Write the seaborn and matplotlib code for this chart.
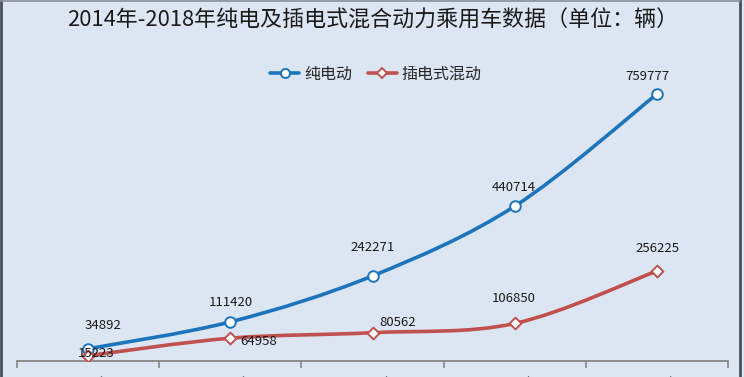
import numpy as np
import pandas as pd
import matplotlib
matplotlib.use("Agg")
import matplotlib.pyplot as plt
from matplotlib.path import Path
from matplotlib.patches import PathPatch
from matplotlib.lines import Line2D
import seaborn as sns

years = ["2014年", "2015年", "2016年", "2017年", "2018年"]
bev = [34892, 111420, 242271, 440714, 759777]
phev = [15223, 64958, 80562, 106850, 256225]
legend_names = ["纯电动", "插电式混动"]
title = "2014年-2018年纯电及插电式混合动力乘用车数据（单位：辆）"

sns.set_theme(style="white")
plt.rcParams['font.family'] = ['Noto Sans CJK SC', 'DejaVu Sans']

bg = "#dce6f2"
blue = "#1c74bc"
red = "#c0504d"

fig = plt.figure(figsize=(7.44, 3.77), dpi=100, facecolor=bg)
ax = fig.add_axes([17/744, 16/377, (728-17)/744, (361-80)/377])
ax.set_facecolor(bg)

df = pd.DataFrame({"x": np.arange(len(years)), "bev": bev, "phev": phev})


def smooth_path(xs, ys):
    pts = np.column_stack([xs, ys]).astype(float)
    n = len(pts)
    verts = [pts[0]]
    codes = [Path.MOVETO]
    for i in range(n - 1):
        p_prev = pts[i - 1] if i > 0 else pts[i]
        p_next2 = pts[i + 2] if i + 2 < n else pts[i + 1]
        c1 = pts[i] + (pts[i + 1] - p_prev) / 6.0
        c2 = pts[i + 1] - (p_next2 - pts[i]) / 6.0
        verts += [c1, c2, pts[i + 1]]
        codes += [Path.CURVE4] * 3
    return Path(verts, codes)


styles = [("bev", blue, "o", 58), ("phev", red, "D", 36)]
for col, color, marker, size in styles:
    ax.add_patch(PathPatch(smooth_path(df["x"], df[col]), facecolor="none",
                           edgecolor=color, lw=2.6, zorder=2, capstyle="round"))
    sns.scatterplot(data=df, x="x", y=col, marker=marker, s=size, color="white",
                    edgecolor=color, linewidth=1.4, zorder=3, ax=ax, legend=False)

# data labels
bev_off = [(15, 23), (1, 19), (0, 28), (-1, 19), (-10, 18)]
phev_off = [(8, 2), (28, -3), (25, 10), (-1, 25), (1, 23)]
for i in range(len(years)):
    ax.annotate(str(bev[i]), (df["x"][i], bev[i]), xytext=bev_off[i],
                textcoords="offset pixels", ha="center", va="center",
                fontsize=9.5, color="#1a1a1a", zorder=4)
    ax.annotate(str(phev[i]), (df["x"][i], phev[i]), xytext=phev_off[i],
                textcoords="offset pixels", ha="center", va="center",
                fontsize=9.5, color="#1a1a1a", zorder=4)

ax.set_xlim(-0.5, len(years) - 0.5)
ax.set_ylim(0, 800000)
ax.set_xticks(df["x"])
ax.set_xticklabels(years, fontsize=11, color="#555555")
ax.set_xticks(np.arange(-0.5, len(years)), minor=True)
ax.tick_params(axis="x", which="major", length=0, pad=11)
ax.tick_params(axis="x", which="minor", length=5, width=1.2, color="#868686", direction="out", bottom=True)
ax.set_yticks([])
ax.set_xlabel("")
ax.set_ylabel("")
for s in ["top", "left", "right"]:
    ax.spines[s].set_visible(False)
ax.spines["bottom"].set_color("#868686")
ax.spines["bottom"].set_linewidth(1.3)

handles = [
    Line2D([], [], color=blue, lw=2.6, marker="o", markersize=6.5,
           markerfacecolor="white", markeredgecolor=blue, markeredgewidth=1.4),
    Line2D([], [], color=red, lw=2.6, marker="D", markersize=5,
           markerfacecolor="white", markeredgecolor=red, markeredgewidth=1.4),
]
fig.legend(handles, legend_names, loc="center", bbox_to_anchor=(376/744, 1 - 74/377),
           ncol=2, frameon=False, fontsize=11.5, handlelength=1.8, handletextpad=0.3,
           columnspacing=1.0)

fig.text(373/744, 1 - 21/377, title, ha="center", va="center", fontsize=15.8, color="#1a1a1a")

# frame: dark left/right edges, thin gray top
fig.add_artist(Line2D([1.2/744, 1.2/744], [0, 1], transform=fig.transFigure, color="#4b505a", lw=2.0))
fig.add_artist(Line2D([739.5/744, 739.5/744], [0, 1], transform=fig.transFigure, color="#4b505a", lw=2.0))
fig.add_artist(Line2D([0, 740/744], [1 - 0.6/377, 1 - 0.6/377], transform=fig.transFigure, color="#8a8f98", lw=1.2))

fig.savefig("out.png", dpi=100, facecolor=bg)
